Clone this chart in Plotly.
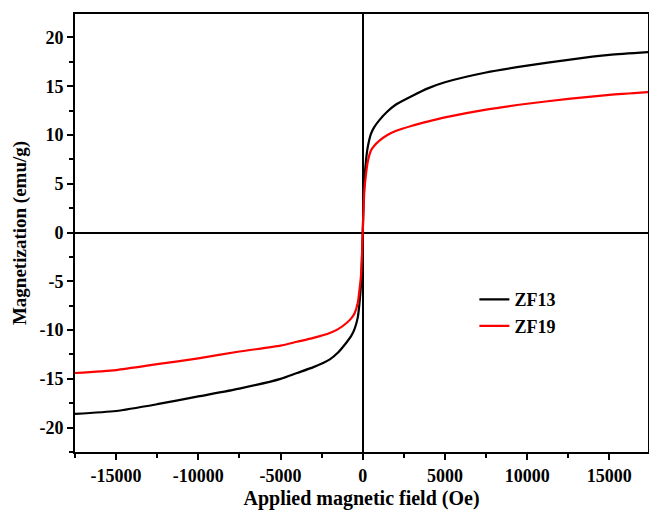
import plotly.graph_objects as go

# field values (Oe) and magnetization (emu/g)
field = [-17500, -15000, -12500, -10000, -7500, -5000, -4000, -3000, -2000, -1500, -1000, -700, -500,
         -300, -200, -100, -50, 0,
         50, 100, 200, 300, 500, 700, 1000, 1500, 2000, 3000, 4000, 5000, 7500, 10000, 12500,
         15000, 17500]
zf13 = [-18.6, -18.3, -17.6, -16.8, -16.0, -15.0, -14.4, -13.8, -13.0, -12.3, -11.3, -10.6, -9.9,
        -8.7, -7.3, -5.2, -3.0, 0,
        3.0, 5.2, 7.4, 8.7, 10.1, 10.8, 11.5, 12.4, 13.1, 14.0, 14.8, 15.4, 16.4, 17.1, 17.7,
        18.2, 18.5]
zf19 = [-14.4, -14.1, -13.5, -12.9, -12.2, -11.6, -11.2, -10.8, -10.3, -9.9, -9.3, -8.8, -8.3,
        -7.2, -5.9, -4.3, -2.5, 0,
        2.5, 4.3, 6.0, 7.2, 8.4, 8.9, 9.4, 10.0, 10.4, 10.95, 11.4, 11.8, 12.6, 13.2, 13.7,
        14.1, 14.4]

x_ticks = [-15000, -10000, -5000, 0, 5000, 10000, 15000]
y_ticks = [-20, -15, -10, -5, 0, 5, 10, 15, 20]

tick_font = dict(family="Liberation Serif", size=18, color="black")

fig = go.Figure()
fig.add_trace(go.Scatter(x=field, y=zf13, mode="lines", name="<b>ZF13</b>",
                         line=dict(color="black", width=2.2, shape="spline", smoothing=0.6)))
fig.add_trace(go.Scatter(x=field, y=zf19, mode="lines", name="<b>ZF19</b>",
                         line=dict(color="#ff0000", width=2.2, shape="spline", smoothing=0.6)))

axis_common = dict(showgrid=False, zeroline=True, zerolinecolor="black", zerolinewidth=2,
                   showline=True, linecolor="black", linewidth=2, mirror=True, automargin=False,
                   ticks="outside", ticklen=6, tickwidth=2, tickcolor="black", tickfont=tick_font)

fig.update_xaxes(range=[-17500, 17350], tickvals=x_ticks,
                 ticktext=["<b>%d</b>" % v for v in x_ticks],
                 minor=dict(dtick=2500, ticks="outside", ticklen=4, tickwidth=2, tickcolor="black"),
                 title=dict(text="<b>Applied magnetic field (Oe)</b>", standoff=6,
                            font=dict(family="Liberation Serif", size=20, color="black")),
                 **axis_common)
fig.update_yaxes(range=[-22.5, 22.4], tickvals=y_ticks,
                 ticktext=["<b>%d</b>" % v for v in y_ticks],
                 minor=dict(dtick=2.5, ticks="outside", ticklen=4, tickwidth=2, tickcolor="black"),
                 title=dict(text="<b>Magnetization (emu/g)</b>", standoff=8,
                            font=dict(family="Liberation Serif", size=19, color="black")),
                 **axis_common)

fig.update_layout(
    width=649, height=514,
    margin=dict(l=75, r=1, t=14, b=62, autoexpand=False),
    plot_bgcolor="white", paper_bgcolor="white",
    font=dict(family="Liberation Serif", size=18, color="black"),
    legend=dict(x=0.697, y=0.39, xanchor="left", yanchor="top",
                bgcolor="rgba(0,0,0,0)", font=dict(family="Liberation Serif", size=18, color="black"),
                tracegroupgap=0),
)

# drop the default page margin so the figure sits at the window's corner
fig.write_html("out.html", config={"displayModeBar": False}, post_script=(
    "document.body.style.margin='0';document.body.style.overflow='hidden';"
    "Plotly.relayout(document.getElementById('{plot_id}'), {width: 649, height: 514});"))
